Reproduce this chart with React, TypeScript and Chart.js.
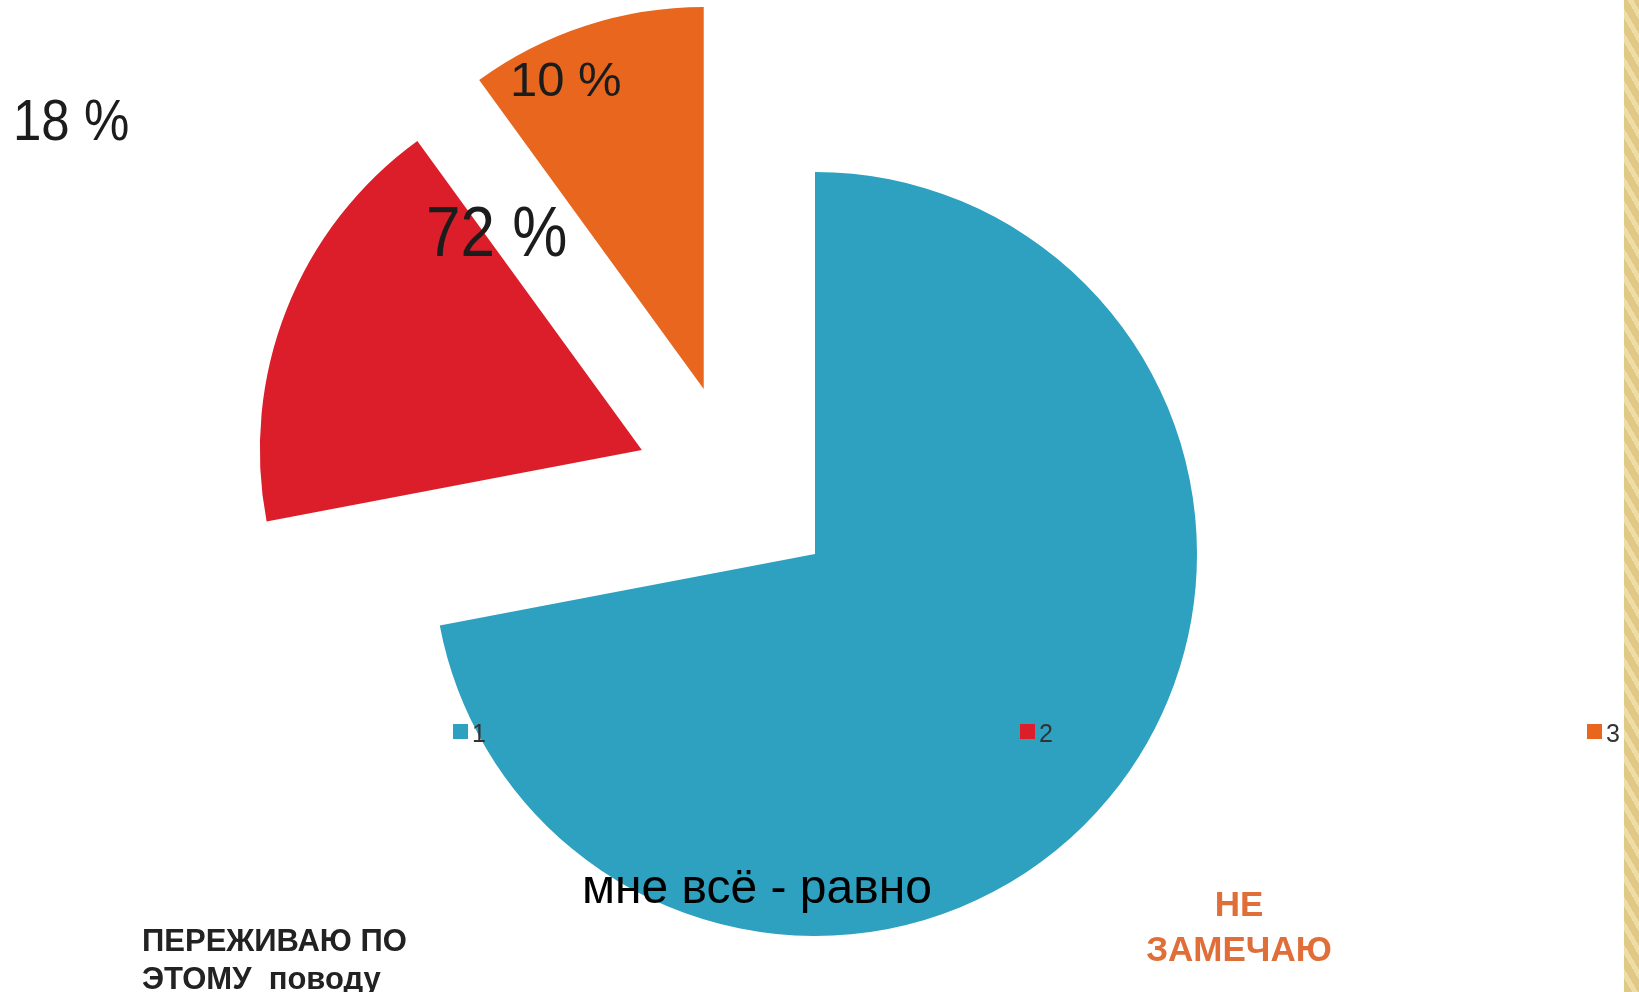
import React, { useEffect, useRef } from "react";
import { Chart, registerables } from "chart.js";

Chart.register(...registerables);

// ---- data ----
const categories = ["1", "2", "3"];
const shares = [72, 18, 10];
const sliceColors = ["#2DA1BF", "#DB1E2A", "#E8661E"];

const FONT = "'Liberation Sans', Arial, sans-serif";

// exploded slices: distance (px) and direction (deg, clockwise from 12 o'clock)
const explode = [
  { distance: 0, angle: 0 },
  { distance: 202, angle: 301 },
  { distance: 199, angle: 326 },
];

// percent label placement (index into shares)
const pctLabels = [
  { index: 1, x: 13, y: 140, size: 51, sy: 1.12 },
  { index: 2, x: 510, y: 96, size: 49, sy: 1.0 },
  { index: 0, x: 426, y: 256, size: 62, sy: 1.14 },
];

const legendX = [453, 1020, 1587];

const explodePlugin = {
  id: "explodeSlices",
  afterDatasetsUpdate(chart: any) {
    const meta = chart.getDatasetMeta(0);
    meta.data.forEach((arc: any, i: number) => {
      const e = explode[i];
      if (!e || !e.distance) return;
      const a = (e.angle * Math.PI) / 180;
      arc.x += e.distance * Math.sin(a);
      arc.y -= e.distance * Math.cos(a);
    });
  },
};

const pctPlugin = {
  id: "pctLabels",
  afterDatasetsDraw(chart: any) {
    const ctx = chart.ctx;
    const values = chart.data.datasets[0].data;
    pctLabels.forEach((it) => {
      ctx.save();
      ctx.font = `${it.size}px ${FONT}`;
      ctx.fillStyle = "#1c1c1c";
      ctx.textBaseline = "alphabetic";
      ctx.textAlign = "left";
      ctx.translate(it.x, it.y);
      ctx.scale(1, it.sy);
      ctx.fillText(`${values[it.index]} %`, 0, 0);
      ctx.restore();
    });
  },
};

const legendPlugin = {
  id: "spreadLegend",
  afterDraw(chart: any) {
    const ctx = chart.ctx;
    const labels = chart.data.labels;
    const colors = chart.data.datasets[0].backgroundColor;
    labels.forEach((lab: string, i: number) => {
      const x = legendX[i];
      ctx.save();
      ctx.fillStyle = colors[i];
      ctx.fillRect(x, 724, 15, 15);
      ctx.fillStyle = "#333333";
      ctx.font = `25px ${FONT}`;
      ctx.textBaseline = "alphabetic";
      ctx.fillText(lab, x + 19, 742);
      ctx.restore();
    });
  },
};

export default function App() {
  const canvasRef = useRef<HTMLCanvasElement | null>(null);

  useEffect(() => {
    document.body.style.margin = "0";
    const canvas = canvasRef.current;
    if (!canvas) return;
    const chart = new Chart(canvas, {
      type: "pie",
      data: {
        labels: categories,
        datasets: [
          {
            data: shares,
            backgroundColor: sliceColors,
            borderWidth: 0,
          },
        ],
      },
      options: {
        animation: false,
        responsive: true,
        maintainAspectRatio: false,
        radius: 382,
        layout: { padding: { left: 0, right: 9, top: 116, bottom: 0 } },
        plugins: {
          legend: { display: false },
          tooltip: { enabled: false },
        },
      } as any,
      plugins: [explodePlugin, pctPlugin, legendPlugin],
    });
    return () => chart.destroy();
  }, []);

  const captionBase: React.CSSProperties = {
    position: "absolute",
    fontFamily: FONT,
    whiteSpace: "nowrap",
    margin: 0,
  };

  return (
    <div
      style={{
        position: "relative",
        width: 1639,
        height: 992,
        overflow: "hidden",
        background: "#ffffff",
      }}
    >
      <div style={{ position: "absolute", left: 0, top: 0, width: 1639, height: 992 }}>
        <canvas ref={canvasRef} />
      </div>
      <div
        style={{
          ...captionBase,
          left: 582,
          top: 863,
          fontSize: 48,
          lineHeight: "48px",
          color: "#000000",
        }}
      >
        мне всё - равно
      </div>
      <div
        style={{
          ...captionBase,
          left: 142,
          top: 922,
          fontSize: 31,
          lineHeight: "38px",
          fontWeight: "bold",
          color: "#222222",
        }}
      >
        ПЕРЕЖИВАЮ ПО
        <br />
        ЭТОМУ&nbsp; поводу
      </div>
      <div
        style={{
          ...captionBase,
          left: 1139,
          width: 200,
          top: 881,
          fontSize: 35,
          lineHeight: "45px",
          fontWeight: "bold",
          color: "#E06E38",
          textAlign: "center",
        }}
      >
        НЕ
        <br />
        ЗАМЕЧАЮ
      </div>
      <div
        style={{
          position: "absolute",
          left: 1624,
          top: 0,
          width: 15,
          height: 992,
          background:
            "repeating-linear-gradient(60deg, #E1C885 0px, #E1C885 7px, #EEDCA6 7px, #EEDCA6 12px)",
        }}
      />
    </div>
  );
}
